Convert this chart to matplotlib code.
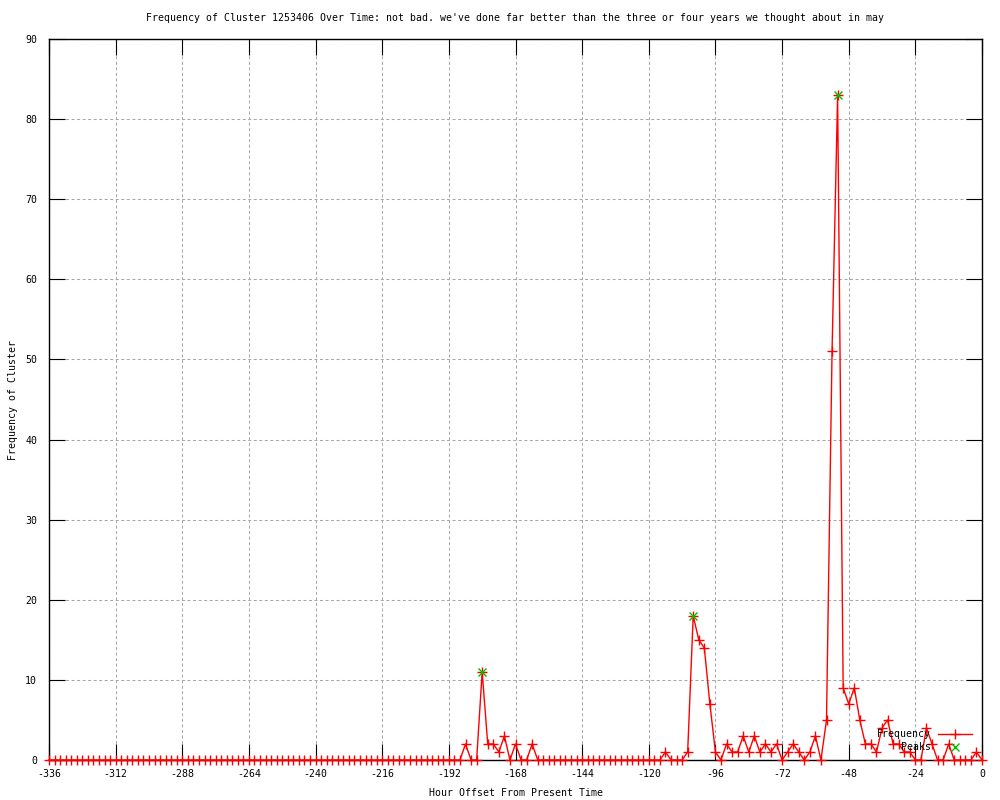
import numpy as np
import matplotlib
matplotlib.use("Agg")
import matplotlib.pyplot as plt

# ---- data ----
hours = list(range(-336, 1, 2))  # hour offsets, one point every 2 hours

frequency = [
    # -336 .. -190
    0, 0, 0, 0, 0, 0, 0, 0, 0, 0, 0, 0, 0, 0, 0, 0, 0, 0, 0, 0,
    0, 0, 0, 0, 0, 0, 0, 0, 0, 0, 0, 0, 0, 0, 0, 0, 0, 0, 0, 0,
    0, 0, 0, 0, 0, 0, 0, 0, 0, 0, 0, 0, 0, 0, 0, 0, 0, 0, 0, 0,
    0, 0, 0, 0, 0, 0, 0, 0, 0, 0, 0, 0, 0, 0,
    # -188 .. -160
    0, 2, 0, 0, 11, 2, 2, 1, 3, 0, 2, 0, 0, 2, 0,
    # -158 .. -116
    0, 0, 0, 0, 0, 0, 0, 0, 0, 0, 0, 0, 0, 0, 0, 0, 0, 0, 0, 0, 0, 0,
    # -114 .. -58
    1, 0, 0, 0, 1, 18, 15, 14, 7, 1, 0, 2, 1, 1, 3, 1, 3, 1, 2, 1,
    2, 0, 1, 2, 1, 0, 1, 3, 0,
    # -56 .. 0
    5, 51, 83, 9, 7, 9, 5, 2, 2, 1, 4, 5, 2, 2, 1, 1, 0, 0, 4, 2,
    0, 0, 2, 0, 0, 0, 0, 1, 0,
]

peak_hours = [-180, -104, -52]
peak_values = [11, 18, 83]

x_ticks = [-336, -312, -288, -264, -240, -216, -192, -168, -144, -120,
           -96, -72, -48, -24, 0]
y_ticks = [0, 10, 20, 30, 40, 50, 60, 70, 80, 90]

title = ("Frequency of Cluster 1253406 Over Time: not bad. we've done far "
         "better than the three or four years we thought about in may")

# ---- figure ----
FONT = "DejaVu Sans Mono"
FS = 7.15
plt.rcParams["font.family"] = [FONT]

fig = plt.figure(figsize=(10, 8), dpi=100)
ax = fig.add_axes([0.049, 0.05, 0.933, 0.90125])

ax.plot(hours, frequency, color="#ff0000", lw=1.0, marker="+",
        markersize=7, markeredgewidth=1.0, label="Frequency",
        clip_on=False, zorder=3)
ax.plot(peak_hours, peak_values, linestyle="none", color="#00c000",
        marker="x", markersize=5.5, markeredgewidth=1.0, label="Peaks",
        clip_on=False, zorder=4)

ax.set_xlim(-336, 0)
ax.set_ylim(0, 90)
ax.set_xticks(x_ticks)
ax.set_yticks(y_ticks)
ax.set_xticklabels([str(v) for v in x_ticks], fontsize=FS)
ax.set_yticklabels([str(v) for v in y_ticks], fontsize=FS)

ax.tick_params(axis="both", direction="in", length=11.5, width=0.8,
               top=True, right=True, color="black")
ax.tick_params(axis="x", pad=6.5)
ax.tick_params(axis="y", pad=8.5)

ax.grid(True, color="#a8a8a8", linewidth=0.75, linestyle=(0, (2.9, 2.4)))
ax.set_axisbelow(True)
for sp in ax.spines.values():
    sp.set_linewidth(1.0)
    sp.set_color("black")

fig.text(0.5145, 1 - 18 / 800, title, ha="center", va="center", fontsize=FS)
fig.text(0.516, 1 - 793 / 800, "Hour Offset From Present Time",
         ha="center", va="center", fontsize=FS)
fig.text(0.013, 0.5, "Frequency of Cluster", rotation=90,
         ha="center", va="center", fontsize=FS)

leg = ax.legend(loc="lower right", bbox_to_anchor=(0.989, 0.011),
                frameon=False, markerfirst=False, numpoints=1,
                handlelength=3.4, handletextpad=0.7, labelspacing=0.3,
                borderpad=0, borderaxespad=0, fontsize=FS)

fig.savefig("out.png", dpi=100)
